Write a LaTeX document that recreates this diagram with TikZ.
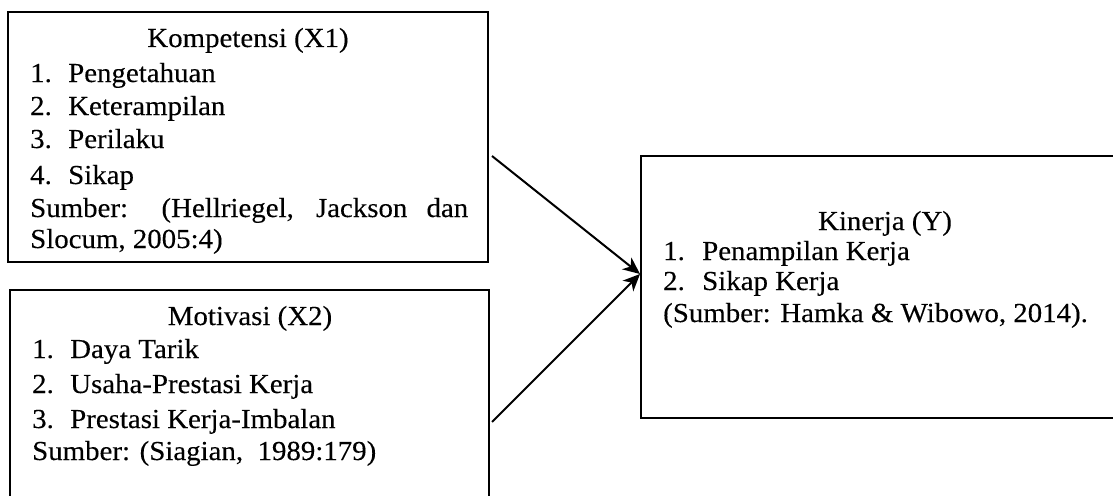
\documentclass[tikz,border=0pt]{standalone}
\usepackage{fontspec}
\setmainfont{Liberation Serif}[FakeStretch=1.05,FakeBold=0.2]
\usetikzlibrary{arrows.meta}

\begin{document}
\begin{tikzpicture}[x=1pt,y=-1pt,
  frame/.style={draw, line width=2.2pt, rectangle, inner sep=0pt, outer sep=0pt, anchor=north west},
  line/.style={anchor=base west, inner sep=0pt, font=\fontsize{27.5}{33}\selectfont},
  title/.style={anchor=base, inner sep=0pt, font=\fontsize{27.5}{33}\selectfont},
  link/.style={line width=2pt, -{Stealth[length=17pt,width=15pt,inset=5pt]}}]
\useasboundingbox (0,0) rectangle (1113,495);
\clip (0,0) rectangle (1113,495);

% boxes
\node[frame, minimum width=480pt, minimum height=250pt] (kom) at (8,12) {};
\node[frame, minimum width=479pt, minimum height=260pt] (mot) at (10,290) {};
\node[frame, minimum width=488pt, minimum height=262pt] (kin) at (641,156) {};

% Kompetensi (X1)
\node[title] (komT) at (248,47) {Kompetensi (X1)};
\node[line] (komN1) at (30,82) {1.};  \node[line] (komI1) at (68,82) {Pengetahuan};
\node[line] (komN2) at (30,115) {2.}; \node[line] (komI2) at (68,115) {Keterampilan};
\node[line] (komN3) at (30,148) {3.}; \node[line] (komI3) at (68,148) {Perilaku};
\node[line] (komN4) at (30,184) {4.}; \node[line] (komI4) at (68,184) {Sikap};
\node[line] (komS1) at (30,217) {\makebox[438pt][s]{Sumber: (Hellriegel, Jackson dan}};
\node[line] (komS2) at (30,248) {Slocum, 2005:4)};

% Motivasi (X2)
\node[title] (motT) at (250,325) {Motivasi (X2)};
\node[line] (motN1) at (32,358) {1.}; \node[line] (motI1) at (70,358) {Daya Tarik};
\node[line] (motN2) at (32,393) {2.}; \node[line] (motI2) at (70,393) {Usaha-Prestasi Kerja};
\node[line] (motN3) at (32,428) {3.}; \node[line] (motI3) at (70,428) {Prestasi Kerja-Imbalan};
\node[line] (motS) at (32,460) {Sumber: (Siagian,\ \ 1989:179)};

% Kinerja (Y)
\node[title] (kinT) at (885,230) {Kinerja (Y)};
\node[line] (kinN1) at (663,260) {1.}; \node[line] (kinI1) at (702,260) {Penampilan Kerja};
\node[line] (kinN2) at (663,290) {2.}; \node[line] (kinI2) at (702,290) {Sikap Kerja};
\node[line] (kinS) at (663,322) {(Sumber: Hamka \& Wibowo, 2014).};

% connectors
\coordinate (fromKom) at (492,156);
\coordinate (fromMot) at (492,422);
\coordinate (toKin) at (640,274);
\draw[link] (fromKom) -- (toKin);
\draw[link] (fromMot) -- (toKin);
\end{tikzpicture}
\end{document}
